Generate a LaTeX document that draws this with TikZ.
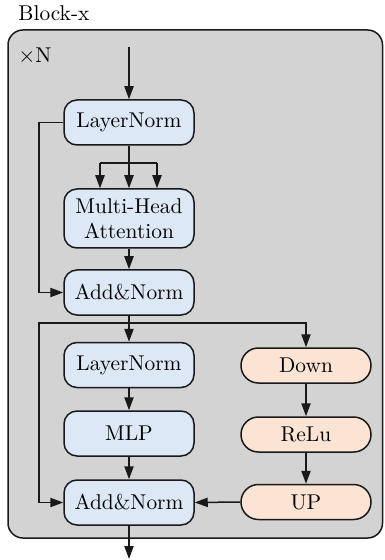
\documentclass[tikz,border=0pt]{standalone}
\usetikzlibrary{arrows.meta}
\definecolor{outergray}{RGB}{211,211,211}
\definecolor{boxblue}{RGB}{220,232,245}
\definecolor{boxorange}{RGB}{251,228,211}
\definecolor{linec}{RGB}{25,25,25}
\begin{document}
\begin{tikzpicture}[x=0.5pt,y=-0.5pt,
  font=\fontsize{10.7}{12.5}\selectfont,
  bbox/.style={draw=linec, line width=0.75pt, fill=boxblue, rounded corners=6.5pt,
     minimum width=65pt, minimum height=22.5pt, inner sep=0pt, align=center},
  obox/.style={draw=linec, line width=0.75pt, fill=boxorange, rounded corners=8.7pt,
     minimum width=65pt, minimum height=17.5pt, inner sep=0pt},
  conn/.style={draw=linec, line width=0.75pt},
  arr/.style={conn, -{Triangle[length=6.5pt,width=4.6pt]}}
]
\useasboundingbox (0,0) rectangle (384,560);
% outer block
\draw[draw=linec, line width=0.75pt, fill=outergray, rounded corners=7.5pt] (8,30) rectangle (382.5,538);
\node[anchor=base west, inner sep=0pt] (title) at (18,20.5) {Block-x};
\node[anchor=base west, inner sep=0pt] (times) at (18,63) {$\times$N};

% nodes
\node[bbox] (ln1) at (129,122.5) {LayerNorm};
\node[bbox, minimum height=29.5pt] (mha) at (129,218.5) {Multi-Head\\Attention};
\node[bbox] (an1) at (129,292.5) {Add\&Norm};
\node[bbox] (ln2) at (129,365) {LayerNorm};
\node[bbox] (mlp) at (129,433.5) {MLP};
\node[bbox] (an2) at (129,502.5) {Add\&Norm};
\node[obox] (down) at (306,365.5) {Down};
\node[obox] (relu) at (306,434.5) {ReLu};
\node[obox] (up) at (306,502) {UP};

% coordinates
\coordinate (in) at (129,47);
\coordinate (out) at (129,559);
\coordinate (s1) at (129,163);
\coordinate (s1l) at (100,163);
\coordinate (s1r) at (157,163);
\coordinate (r1) at (39,122.5);
\coordinate (b2) at (129,323);
\coordinate (b2l) at (39,323);
\coordinate (b2r) at (306,323);

% connectors
\draw[arr] (in) -- (ln1.north);
\draw[conn] (ln1.south) -- (s1);
\draw[conn] (s1l) -- (s1r);
\draw[arr] (s1l) -- (s1l |- mha.north);
\draw[arr] (s1) -- (mha.north);
\draw[arr] (s1r) -- (s1r |- mha.north);
\draw[arr] (mha.south) -- (an1.north);
\draw[arr] (ln1.west) -- (r1) |- (an1.west);
\draw[conn] (an1.south) -- (b2);
\draw[arr] (b2) -- (ln2.north);
\draw[arr] (b2) -- (b2r) -- (down.north);
\draw[arr] (b2) -- (b2l) |- (an2.west);
\draw[arr] (ln2.south) -- (mlp.north);
\draw[arr] (mlp.south) -- (an2.north);
\draw[arr] (down.south) -- (relu.north);
\draw[arr] (relu.south) -- (up.north);
\draw[arr] (up.west) -- (an2.east);
\draw[arr] (an2.south) -- (out);
\end{tikzpicture}
\end{document}
